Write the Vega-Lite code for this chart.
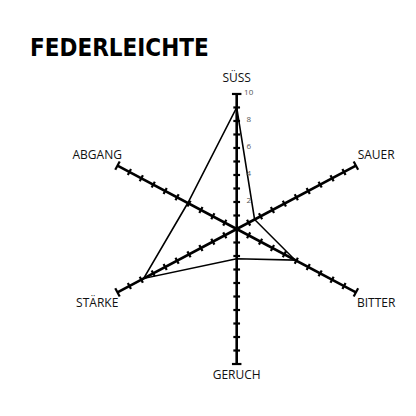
{
  "$schema": "https://vega.github.io/schema/vega-lite/v6.json",
  "width": 416,
  "height": 416,
  "padding": 0,
  "autosize": "none",
  "background": "white",
  "config": {"view": {"stroke": null}, "font": "Open Sans"},
  "title": {
    "text": "FEDERLEICHTE",
    "anchor": "start",
    "frame": "group",
    "orient": "top",
    "offset": 0,
    "dx": 30,
    "dy": 80,
    "baseline": "alphabetic",
    "font": "DejaVu Sans Condensed",
    "fontSize": 24,
    "fontWeight": "bold",
    "color": "black"
  },
  "datasets": {
    "scores": [
      {"axis": "SÜSS", "idx": 0, "value": 9, "ticks": [1, 2, 3, 4, 5, 6, 7, 8, 9, 10]},
      {"axis": "SAUER", "idx": 1, "value": 1.5, "ticks": [1, 2, 3, 4, 5, 6, 7, 8, 9, 10]},
      {"axis": "BITTER", "idx": 2, "value": 4.9, "ticks": [1, 2, 3, 4, 5, 6, 7, 8, 9, 10]},
      {"axis": "GERUCH", "idx": 3, "value": 2.2, "ticks": [1, 2, 3, 4, 5, 6, 7, 8, 9, 10]},
      {"axis": "STÄRKE", "idx": 4, "value": 7.8, "ticks": [1, 2, 3, 4, 5, 6, 7, 8, 9, 10]},
      {"axis": "ABGANG", "idx": 5, "value": 4.1, "ticks": [1, 2, 3, 4, 5, 6, 7, 8, 9, 10]}
    ]
  },
  "data": {"name": "scores"},
  "transform": [
    {"calculate": "[90, 28, -28, -90, 208, 152][datum.idx]", "as": "deg"},
    {"calculate": "datum.deg * PI / 180", "as": "rad"},
    {"calculate": "0", "as": "origin"}
  ],
  "layer": [
    {
      "mark": {"type": "rule", "color": "black", "strokeWidth": 2.6},
      "transform": [
        {"calculate": "10 * cos(datum.rad)", "as": "ex"},
        {"calculate": "10 * sin(datum.rad)", "as": "ey"}
      ],
      "encoding": {
        "x": {"field": "origin", "type": "quantitative", "scale": {"domain": [-17.53, 13.28], "nice": false, "zero": false}, "axis": null},
        "y": {"field": "origin", "type": "quantitative", "scale": {"domain": [-13.85, 16.96], "nice": false, "zero": false}, "axis": null},
        "x2": {"field": "ex"},
        "y2": {"field": "ey"}
      }
    },
    {
      "mark": {"type": "point", "shape": "stroke", "filled": false, "color": "black", "strokeWidth": 2.2, "opacity": 1},
      "transform": [
        {"flatten": ["ticks"], "as": ["tick"]},
        {"calculate": "datum.tick * cos(datum.rad)", "as": "px"},
        {"calculate": "datum.tick * sin(datum.rad)", "as": "py"},
        {"calculate": "90 - datum.deg", "as": "rot"}
      ],
      "encoding": {
        "x": {"field": "px", "type": "quantitative", "scale": {"domain": [-17.53, 13.28], "nice": false, "zero": false}, "axis": null},
        "y": {"field": "py", "type": "quantitative", "scale": {"domain": [-13.85, 16.96], "nice": false, "zero": false}, "axis": null},
        "angle": {"field": "rot", "type": "quantitative", "scale": null},
        "size": {"condition": {"test": "datum.tick == 10", "value": 90}, "value": 45}
      }
    },
    {
      "mark": {"type": "line", "color": "black", "strokeWidth": 1.6, "interpolate": "linear-closed"},
      "transform": [
        {"calculate": "datum.value * cos(datum.rad)", "as": "px"},
        {"calculate": "datum.value * sin(datum.rad)", "as": "py"}
      ],
      "encoding": {
        "x": {"field": "px", "type": "quantitative", "scale": {"domain": [-17.53, 13.28], "nice": false, "zero": false}, "axis": null},
        "y": {"field": "py", "type": "quantitative", "scale": {"domain": [-13.85, 16.96], "nice": false, "zero": false}, "axis": null},
        "order": {"field": "idx", "type": "quantitative"}
      }
    },
    {
      "mark": {"type": "text", "align": "center", "baseline": "middle", "fontSize": 12, "color": "#111"},
      "transform": [
        {"calculate": "datum.idx == 0 ? 11.15 : datum.idx == 3 ? 10.85 : 11.7", "as": "lr"},
        {"calculate": "datum.lr * cos(datum.rad)", "as": "px"},
        {"calculate": "datum.lr * sin(datum.rad)", "as": "py"}
      ],
      "encoding": {
        "x": {"field": "px", "type": "quantitative", "scale": {"domain": [-17.53, 13.28], "nice": false, "zero": false}, "axis": null},
        "y": {"field": "py", "type": "quantitative", "scale": {"domain": [-13.85, 16.96], "nice": false, "zero": false}, "axis": null},
        "text": {"field": "axis", "type": "nominal"}
      }
    },
    {
      "mark": {"type": "text", "align": "center", "baseline": "middle", "fontSize": 8, "color": "#555", "dx": 12, "dy": -1},
      "transform": [
        {"filter": "datum.idx == 0"},
        {"flatten": ["ticks"], "as": ["tick"]},
        {"filter": "datum.tick % 2 == 0"}
      ],
      "encoding": {
        "x": {"field": "origin", "type": "quantitative", "scale": {"domain": [-17.53, 13.28], "nice": false, "zero": false}, "axis": null},
        "y": {"field": "tick", "type": "quantitative", "scale": {"domain": [-13.85, 16.96], "nice": false, "zero": false}, "axis": null},
        "text": {"field": "tick", "type": "quantitative"}
      }
    }
  ]
}
